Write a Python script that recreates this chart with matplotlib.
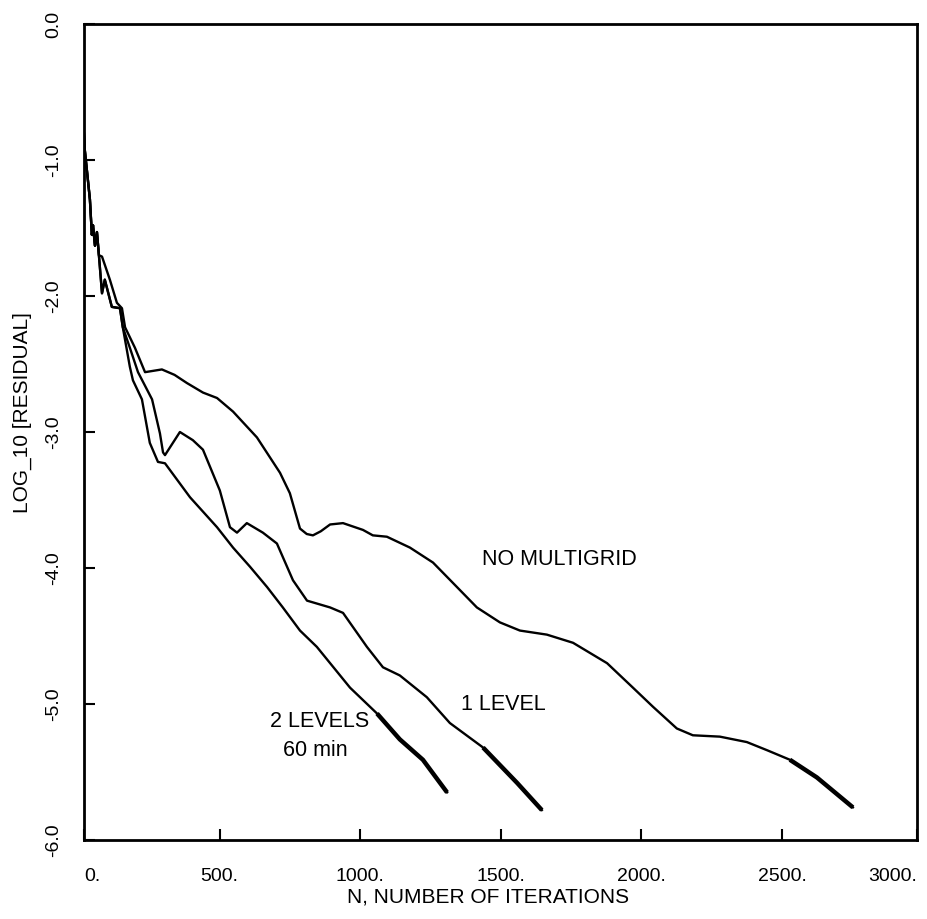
import matplotlib
matplotlib.use("Agg")
import matplotlib.pyplot as plt

plt.rcParams["font.family"] = ["Liberation Sans", "DejaVu Sans"]

# shared start of all three runs (iterations, log10 residual)
start_n = [15, 21, 39, 46, 50, 57, 64, 71]
start_r = [-0.70, -0.93, -1.29, -1.55, -1.48, -1.63, -1.53, -1.70]

# no multigrid
nomg_n = [82, 110, 135, 153, 164, 199, 235, 295, 340, 384, 441, 491, 548, 633,
          715, 750, 786, 810, 832, 860, 893, 939, 1010, 1045, 1095, 1177, 1259,
          1330, 1415, 1497, 1568, 1664, 1757, 1878, 1970, 2041, 2126, 2183, 2279,
          2375, 2447, 2528, 2624, 2752]
nomg_r = [-1.71, -1.88, -2.05, -2.09, -2.23, -2.38, -2.56, -2.54, -2.58, -2.64,
          -2.71, -2.75, -2.85, -3.04, -3.30, -3.45, -3.71, -3.75, -3.76, -3.73,
          -3.68, -3.67, -3.72, -3.76, -3.77, -3.85, -3.96, -4.11, -4.29, -4.40,
          -4.46, -4.49, -4.55, -4.70, -4.88, -5.02, -5.18, -5.23, -5.24, -5.28,
          -5.34, -5.41, -5.54, -5.76]

# 1 level
lev1_n = [82, 92, 117, 146, 156, 181, 210, 260, 288, 299, 306, 359, 405, 441, 501,
          537, 562, 597, 654, 704, 761, 811, 893, 939, 1024, 1081, 1141, 1237,
          1319, 1437, 1558, 1646]
lev1_r = [-1.98, -1.88, -2.08, -2.09, -2.23, -2.38, -2.56, -2.76, -3.01, -3.15,
          -3.17, -3.00, -3.06, -3.13, -3.43, -3.70, -3.74, -3.67, -3.74, -3.82,
          -4.09, -4.24, -4.29, -4.33, -4.58, -4.73, -4.79, -4.95, -5.14, -5.32,
          -5.58, -5.78]

# 2 levels
lev2_n = [82, 92, 117, 146, 156, 181, 192, 224, 252, 281, 306, 395, 491, 548, 608,
          669, 725, 786, 846, 964, 1060, 1141, 1223, 1309]
lev2_r = [-1.98, -1.88, -2.08, -2.09, -2.23, -2.52, -2.62, -2.76, -3.08, -3.22,
          -3.23, -3.48, -3.70, -3.85, -3.99, -4.14, -4.29, -4.46, -4.58, -4.88,
          -5.07, -5.26, -5.41, -5.65]

xticks = [18, 500, 1000, 1500, 2000, 2500, 2980]
xtick_labels = ["0.", "500.", "1000.", "1500.", "2000.", "2500.", "3000."]
yticks = [0, -1, -2, -3, -4, -5, -6]
ytick_labels = ["0.0", "-1.0", "-2.0", "-3.0", "-4.0", "-5.0", "-6.0"]

fig = plt.figure(figsize=(9.27, 9.19), dpi=100)
ax = fig.add_axes([84 / 927, 79 / 919, 833 / 927, 816 / 919])

# each curve, with the noisy late part drawn heavier
for n, r, tail in [(nomg_n, nomg_r, 2500), (lev1_n, lev1_r, 1320), (lev2_n, lev2_r, 1060)]:
    xs = start_n + n
    ys = start_r + r
    ax.plot(xs, ys, color="black", lw=1.7, solid_joinstyle="round")
    tx = [x for x in xs if x >= tail]
    ty = [y for x, y in zip(xs, ys) if x >= tail]
    ax.plot(tx, ty, color="black", lw=3.2, solid_capstyle="butt")

ax.set_xlim(18, 2980)
ax.set_ylim(-6, 0)
ax.set_xticks(xticks)
ax.set_xticklabels(xtick_labels)
ax.set_yticks(yticks)
ax.set_yticklabels(ytick_labels, rotation=90, va="center")
ax.get_xticklabels()[-1].set_ha("right")
ax.get_xticklabels()[0].set_ha("left")

ax.tick_params(direction="in", length=8, width=1.5, labelsize=14)
ax.tick_params(axis="x", pad=20)
ax.tick_params(axis="y", pad=16)
for s in ax.spines.values():
    s.set_linewidth(2)

ax.set_xlabel("N, NUMBER OF ITERATIONS", fontsize=15)
ax.xaxis.set_label_coords(0.485, -0.07)
ax.xaxis.label.set_va("center")
ax.set_ylabel("LOG_10 [RESIDUAL]", fontsize=15)
ax.yaxis.set_label_coords(-0.074, 0.524)
ax.yaxis.label.set_va("center")

ax.text(1707, -3.94, "NO MULTIGRID", fontsize=15.5, ha="center", va="center")
ax.text(1508, -5.0, "1 LEVEL", fontsize=15.5, ha="center", va="center")
ax.text(857, -5.13, "2 LEVELS", fontsize=15.5, ha="center", va="center")
ax.text(839, -5.34, "60 min", fontsize=15.5, ha="center", va="center")

fig.savefig("out.png", dpi=100)
